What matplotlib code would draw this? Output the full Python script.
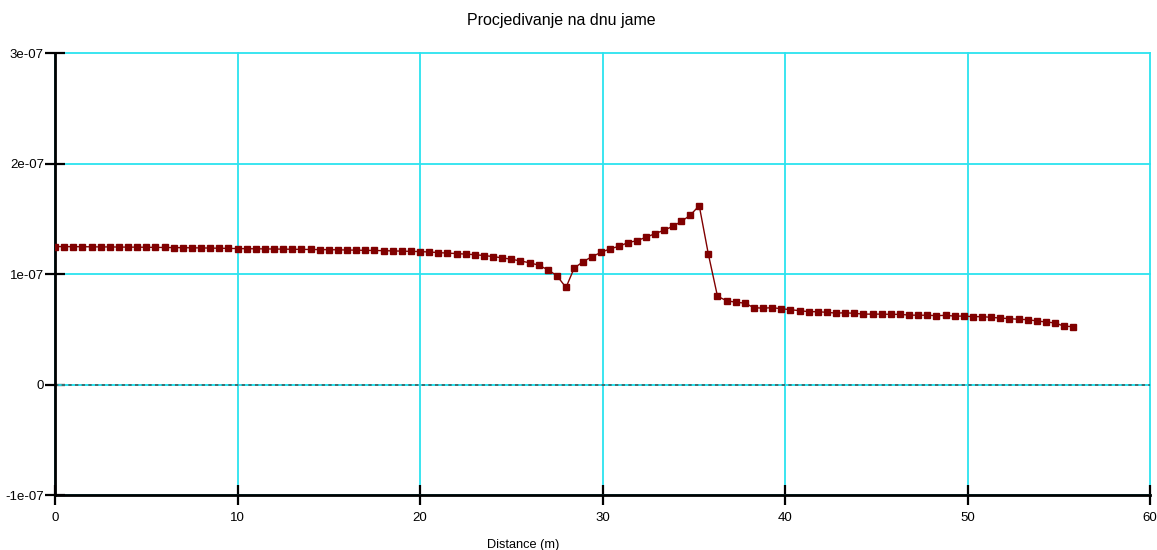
import matplotlib
matplotlib.use("Agg")
import matplotlib.pyplot as plt

plt.rcParams['font.family'] = ['Liberation Sans', 'DejaVu Sans']

# seepage along the pit bottom
dist_left = [0.0, 0.5, 1.0, 1.5, 2.0, 2.5, 3.0, 3.5, 4.0, 4.5, 5.0, 5.5, 6.0, 6.5,
             7.0, 7.5, 8.0, 8.5, 9.0, 9.5, 10.0, 10.5, 11.0, 11.5, 12.0, 12.5,
             13.0, 13.5, 14.0, 14.5, 15.0, 15.5, 16.0, 16.5, 17.0, 17.5, 18.0,
             18.5, 19.0, 19.5, 20.0, 20.5, 21.0, 21.5, 22.0, 22.5, 23.0, 23.5,
             24.0, 24.5, 25.0, 25.5, 26.0, 26.5, 27.0, 27.5, 28.0]
flux_left = [1.248, 1.248, 1.247, 1.247, 1.246, 1.245, 1.245, 1.244, 1.243, 1.243,
             1.242, 1.241, 1.240, 1.239, 1.238, 1.237, 1.236, 1.235, 1.233, 1.232,
             1.230, 1.229, 1.228, 1.227, 1.226, 1.225, 1.224, 1.223, 1.222, 1.221,
             1.220, 1.219, 1.217, 1.216, 1.214, 1.213, 1.211, 1.209, 1.207, 1.205,
             1.203, 1.199, 1.194, 1.189, 1.185, 1.180, 1.175, 1.167, 1.158, 1.146,
             1.134, 1.118, 1.102, 1.080, 1.039, 0.985, 0.878]

dist_mid = [28.45, 28.95, 29.44, 29.93, 30.41, 30.90, 31.40, 31.89, 32.38, 32.86,
            33.35, 33.85, 34.32, 34.81, 35.30]
flux_mid = [1.054, 1.113, 1.158, 1.197, 1.227, 1.251, 1.284, 1.302, 1.332, 1.364,
            1.395, 1.431, 1.476, 1.532, 1.619]

dist_right = [35.8, 36.3, 36.8, 37.3, 37.8, 38.3, 38.8, 39.3, 39.8, 40.3, 40.8,
              41.3, 41.8, 42.3, 42.8, 43.3, 43.8, 44.3, 44.8, 45.3, 45.8, 46.3,
              46.8, 47.3, 47.8, 48.3, 48.8, 49.3, 49.8, 50.3, 50.8, 51.3, 51.8,
              52.3, 52.8, 53.3, 53.8, 54.3, 54.8, 55.3, 55.8]
flux_right = [1.180, 0.799, 0.758, 0.745, 0.736, 0.695, 0.691, 0.695, 0.686, 0.677,
              0.668, 0.659, 0.659, 0.653, 0.646, 0.649, 0.644, 0.637, 0.637, 0.637,
              0.635, 0.635, 0.628, 0.627, 0.627, 0.623, 0.626, 0.619, 0.619, 0.614,
              0.614, 0.608, 0.601, 0.596, 0.590, 0.587, 0.575, 0.566, 0.557, 0.527,
              0.524]

x_ticks = [0, 10, 20, 30, 40, 50, 60]
y_ticks = [-1e-07, 0, 1e-07, 2e-07, 3e-07]
y_labels = ['-1e-07', '0', '1e-07', '2e-07', '3e-07']

dist = dist_left + dist_mid + dist_right
flux = [v * 1e-07 for v in flux_left + flux_mid + flux_right]

fig = plt.figure(figsize=(11.57, 5.5), dpi=100)
ax = fig.add_axes([55 / 1157, 1 - 495 / 550, 1095 / 1157, 442 / 550])

grid_col = '#2be3ef'
ax.set_xlim(0, 60)
ax.set_ylim(-1e-07, 3e-07)
ax.set_xticks(x_ticks)
ax.set_yticks(y_ticks)
ax.set_yticklabels(y_labels)
ax.grid(True, color=grid_col, linewidth=1.3)
ax.set_axisbelow(True)
for gl in ax.get_xgridlines() + ax.get_ygridlines():
    gl.set_clip_on(False)

# zero line: cyan with dark dashes on top
ax.axhline(0, color=grid_col, linewidth=1.3, zorder=1)
ax.axhline(0, color='#4a5a5a', linewidth=1.2, linestyle=(0, (2, 2)), zorder=1.5)

ax.plot(dist, flux, color='#800000', linewidth=1.0, marker='s', markersize=5,
        markeredgecolor='#800000', zorder=3)

for side in ['top', 'right']:
    ax.spines[side].set_visible(False)
for side in ['left', 'bottom']:
    ax.spines[side].set_linewidth(2)
    ax.spines[side].set_color('black')

ax.tick_params(direction='inout', length=14, width=1.6, labelsize=9.5)
ax.tick_params(axis='x', pad=5)
ax.tick_params(axis='y', pad=1)

fig.text(561 / 1157, 1 - 21 / 550, 'Procjedivanje na dnu jame', ha='center',
         va='center', fontsize=11.5)
fig.text(523 / 1157, 1 - 545 / 550, 'Distance (m)', ha='center', va='center',
         fontsize=9.2)

fig.savefig('out.png', dpi=100)
